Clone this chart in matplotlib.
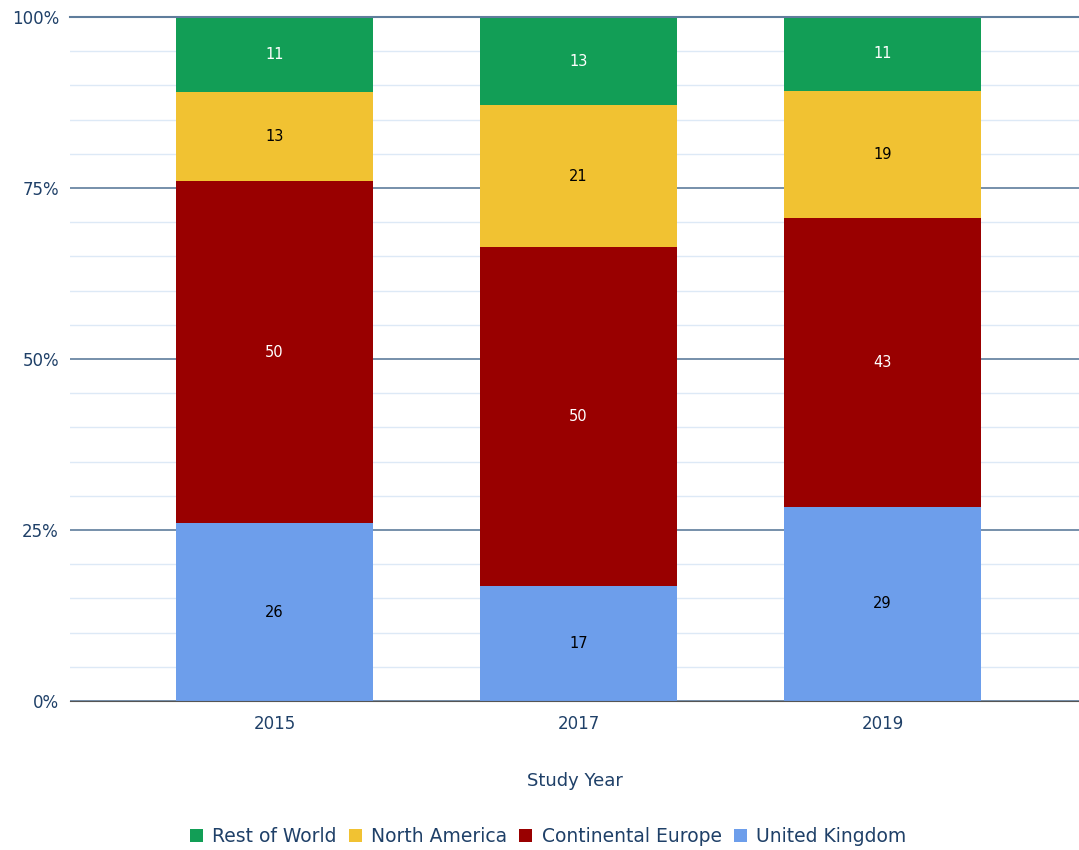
import numpy as np
import matplotlib.pyplot as plt
from matplotlib.ticker import MultipleLocator, PercentFormatter

years = ["2015", "2017", "2019"]
uk = [26, 17, 29]
europe = [50, 50, 43]
north_america = [13, 21, 19]
rest_world = [11, 13, 11]

series = [
    ("United Kingdom", uk, "#6d9eeb", "black"),
    ("Continental Europe", europe, "#990000", "white"),
    ("North America", north_america, "#f1c232", "black"),
    ("Rest of World", rest_world, "#129e56", "white"),
]

text_color = "#1f4068"
totals = np.sum([s[1] for s in series], axis=0)

fig = plt.figure(figsize=(10.79, 8.5), dpi=100)
ax = fig.add_axes([0.0649, 0.1753, 0.9351, 0.8047])

x = np.arange(len(years))
bottom = np.zeros(len(years))
handles = {}
for name, vals, color, lab_color in series:
    share = np.array(vals) / totals * 100
    bars = ax.bar(x, share, width=0.648, bottom=bottom, color=color, zorder=3, label=name)
    handles[name] = bars
    for xi, b, h, v in zip(x, bottom, share, vals):
        ax.text(xi, b + h / 2, str(v), ha="center", va="center",
                color=lab_color, fontsize=10.5, zorder=4)
    bottom += share

ax.set_xlim(-0.673, 2.646)
ax.set_ylim(0, 100)
ax.set_xticks(x, years)
ax.yaxis.set_major_locator(MultipleLocator(25))
ax.yaxis.set_minor_locator(MultipleLocator(5))
ax.yaxis.set_major_formatter(PercentFormatter(decimals=0))
ax.grid(axis="y", which="major", color="#5f7d9c", linewidth=1.2, zorder=1)
ax.grid(axis="y", which="minor", color="#dde9f6", linewidth=1.0, zorder=1)
# top line sits over the bars
ax.axhline(100, color="#5f7d9c", linewidth=1.5, zorder=5, clip_on=False)
ax.tick_params(axis="both", which="both", length=0, labelsize=12, colors=text_color, pad=8)
ax.tick_params(axis="x", pad=10)
for side in ["top", "right", "left"]:
    ax.spines[side].set_visible(False)
ax.spines["bottom"].set_color("#555555")
ax.spines["bottom"].set_zorder(5)

ax.set_xlabel("Study Year", fontsize=13, color=text_color, labelpad=28)

order = ["Rest of World", "North America", "Continental Europe", "United Kingdom"]
leg = fig.legend([handles[n] for n in order], order, loc="center", bbox_to_anchor=(0.508, 0.016),
                 ncol=4, frameon=False, fontsize=13.5, handlelength=0.7, handleheight=0.7,
                 handletextpad=0.5, columnspacing=0.63)
for t in leg.get_texts():
    t.set_color(text_color)

fig.savefig("out.png", dpi=100)
